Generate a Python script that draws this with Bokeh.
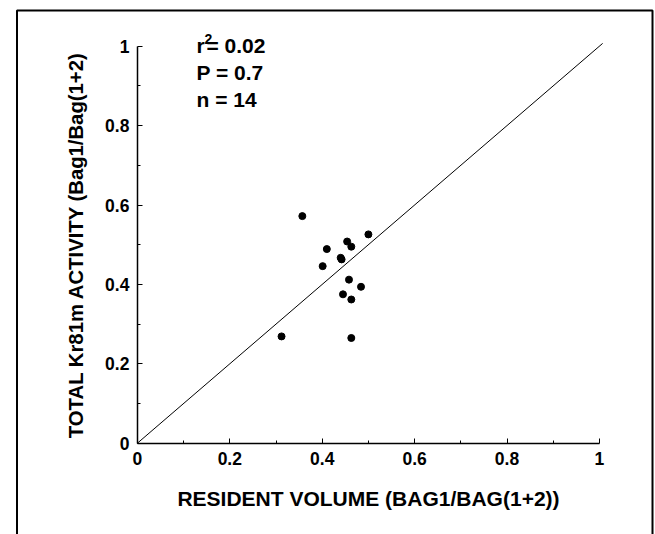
from bokeh.plotting import figure
from bokeh.models import BoxAnnotation, Label, FixedTicker, Range1d, ColumnDataSource, NumeralTickFormatter
from bokeh.embed import file_html
from bokeh.resources import INLINE

# ---- data ----
resident_volume = [0.357, 0.500, 0.454, 0.463, 0.410, 0.440, 0.442, 0.401,
                   0.458, 0.484, 0.445, 0.463, 0.312, 0.463]
kr81m_activity = [0.572, 0.526, 0.508, 0.495, 0.489, 0.467, 0.463, 0.446,
                  0.412, 0.394, 0.375, 0.362, 0.269, 0.265]
identity_x = [0.0, 1.007]
identity_y = [0.0, 1.007]
major_ticks = [0.0, 0.2, 0.4, 0.6, 0.8, 1.0]
minor_ticks = [0.1, 0.3, 0.5, 0.7, 0.9]
tick_labels = ["0", "0.2", "0.4", "0.6", "0.8", "1"]
r2_value = "0.02"
p_value = "0.7"
n_value = "14"
x_title = "RESIDENT VOLUME (BAG1/BAG(1+2))"
y_title = "TOTAL Kr81m ACTIVITY (Bag1/Bag(1+2)"

# ---- layout (pixel geometry of the page) ----
W, H = 655, 534
X0_PX, X_SCALE = 136.9, 462.0     # x pixel of data 0, px per unit
Y0_PX, Y_SCALE = 442.7, 397.0     # y pixel of data 0, px per unit


def px_to_x(px):
    return (px - X0_PX) / X_SCALE


def px_to_y(py):
    return (Y0_PX - py) / Y_SCALE


FONT = "Liberation Sans"

p = figure(width=W, height=H, output_backend="svg", toolbar_location=None,
           title=None,
           x_range=Range1d(px_to_x(0), px_to_x(W)),
           y_range=Range1d(px_to_y(H), px_to_y(0)),
           min_border_left=0, min_border_right=0,
           min_border_top=0, min_border_bottom=0)
p.grid.visible = False
p.outline_line_color = None
p.background_fill_color = "white"
p.border_fill_color = "white"

for ax in (p.xaxis[0], p.yaxis[0]):
    ax.fixed_location = 0
    ax.bounds = (0, 1)
    ax.ticker = FixedTicker(ticks=major_ticks, minor_ticks=minor_ticks)
    ax.formatter = NumeralTickFormatter(format="0.[0]")
    ax.major_label_overrides = {t: l for t, l in zip(major_ticks, tick_labels)}
    ax.axis_line_color = "black"
    ax.axis_line_width = 1.5
    ax.major_tick_in = 5
    ax.major_tick_out = 0
    ax.minor_tick_in = 3
    ax.minor_tick_out = 0
    ax.major_tick_line_color = "black"
    ax.minor_tick_line_color = "black"
    ax.major_label_text_font = FONT
    ax.major_label_text_font_size = "17.5px"
    ax.major_label_text_font_style = "bold"
    ax.major_label_text_color = "black"
    ax.axis_label_text_font = FONT
    ax.axis_label_text_font_style = "bold"
    ax.axis_label_text_color = "black"

p.xaxis.axis_label = x_title
p.yaxis.axis_label = y_title
p.xaxis.axis_label_text_font_size = "21px"
p.yaxis.axis_label_text_font_size = "20.3px"
p.xaxis.major_label_standoff = 9
p.yaxis.major_label_standoff = 8
p.xaxis.axis_label_standoff = 18
p.yaxis.axis_label_standoff = 15

# identity line
p.line(identity_x, identity_y, line_color="black", line_width=1)

# data points
src = ColumnDataSource(dict(x=resident_volume, y=kr81m_activity))
p.scatter("x", "y", source=src, size=7, fill_color="black", line_color="black")


# statistics text
def stat_label(text, px, py, size="21px"):
    p.add_layout(Label(x=px_to_x(px), y=px_to_y(py), text=text,
                       text_font=FONT, text_font_size=size, text_font_style="bold",
                       text_color="black", text_baseline="middle", text_align="left"))


stat_label("r", 196, 45)
stat_label("2", 204, 38, size="14px")
stat_label("= " + r2_value, 206, 45)
stat_label("P = " + p_value, 196, 72)
stat_label("n = " + n_value, 196, 99)

# outer border (left, top, right; bottom edge falls below the page)
p.add_layout(BoxAnnotation(left=px_to_x(16.5), right=px_to_x(652),
                           top=px_to_y(10), bottom=px_to_y(700),
                           fill_alpha=0, line_color="black", line_width=2,
                           line_alpha=1))

open("out.html", "w").write(file_html(p, INLINE))
